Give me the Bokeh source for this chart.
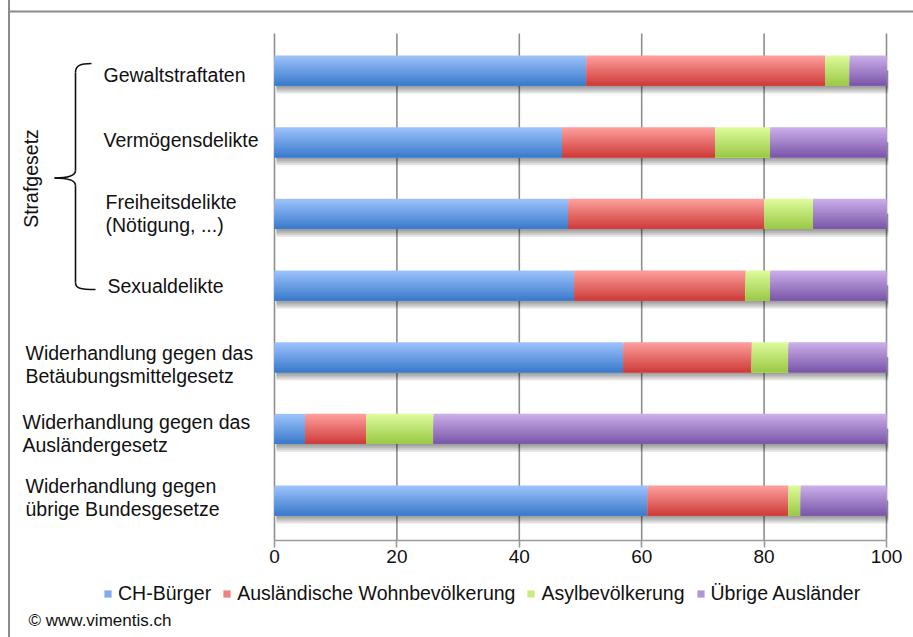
import math
import numpy as np
from bokeh.plotting import figure
from bokeh.layouts import column
from bokeh.models import (ColumnDataSource, Range1d, LinearAxis, FixedTicker, Label,
                          Legend, LegendItem, BoxAnnotation)
from bokeh.embed import file_html
from bokeh.resources import INLINE

# ---------------- data ----------------
categories = [
    "Gewaltstraftaten",
    "Vermögensdelikte",
    "Freiheitsdelikte\n(Nötigung, ...)",
    "Sexualdelikte",
    "Widerhandlung gegen das\nBetäubungsmittelgesetz",
    "Widerhandlung gegen das\nAusländergesetz",
    "Widerhandlung gegen\nübrige Bundesgesetze",
]
series_names = ["CH-Bürger", "Ausländische Wohnbevölkerung", "Asylbevölkerung", "Übrige Ausländer"]
ch_buerger = [51, 47, 48, 49, 57, 5, 61]
auslaendische_wohnbev = [39, 25, 32, 28, 21, 10, 23]
asylbev = [4, 9, 8, 4, 6, 11, 2]
uebrige_auslaender = [6, 19, 12, 19, 16, 74, 14]
x_ticks = [0, 20, 40, 60, 80, 100]
group_label = "Strafgesetz"
source_note = "© www.vimentis.ch"

# ---------------- layout helpers (canvas pixels -> data) ----------------
W, H = 913, 637
H_MAIN = 575
X0_PX, PX_PER_UNIT = 274.0, 6.12
ROW0_PY, ROW_STEP = 70.0, 71.67
FRAME_BOTTOM_PY = 540


def px_to_x(px):
    return (px - X0_PX) / PX_PER_UNIT


def py_to_y(py):
    return (py - ROW0_PY) / ROW_STEP


FONT = "Liberation Sans"
TXT = "#111111"
LEFT_LINE_CSS = {"background": "linear-gradient(to right, rgba(0,0,0,0) 8px, #8a8a8a 8px, "
                               "#8a8a8a 10px, rgba(0,0,0,0) 10px)"}


def style_plain(fig):
    fig.outline_line_color = None
    fig.xgrid.grid_line_color = None
    fig.ygrid.grid_line_color = None
    fig.background_fill_alpha = 0
    fig.border_fill_alpha = 0
    fig.styles = LEFT_LINE_CSS


p = figure(width=W, height=H_MAIN, output_backend="svg", toolbar_location=None,
           x_range=Range1d(px_to_x(0), px_to_x(W)),
           y_range=Range1d(py_to_y(FRAME_BOTTOM_PY), py_to_y(0)),
           x_axis_location=None, y_axis_location=None,
           min_border_left=0, min_border_right=0, min_border_top=0,
           min_border_bottom=H_MAIN - FRAME_BOTTOM_PY)
style_plain(p)

rows = np.arange(len(categories))

# ---------------- gridlines (from the tick list) ----------------
p.segment(x0=x_ticks, x1=x_ticks, y0=[py_to_y(33)] * len(x_ticks),
          y1=[py_to_y(FRAME_BOTTOM_PY)] * len(x_ticks),
          line_color="#8e8e8e", line_width=1.6)

# ---------------- bars ----------------
bar_h = 30.0 / ROW_STEP
series_vals = [ch_buerger, auslaendische_wohnbev, asylbev, uebrige_auslaender]
colors = [
    ((155, 193, 250), (60, 124, 205)),
    ((252, 157, 154), (207, 62, 60)),
    ((220, 250, 154), (156, 202, 72)),
    ((201, 173, 233), (124, 88, 170)),
]
totals = np.sum(np.array(series_vals, dtype=float), axis=0)


def mix(top, bot, t):
    c = tuple(int(round(top[j] + (bot[j] - top[j]) * t)) for j in range(3))
    return "#%02x%02x%02x" % c


# soft shadow under the bars (overlapping translucent layers)
px1 = 1.0 / ROW_STEP
for d in [8, 6, 4, 2]:
    top_edge = rows
    bot_edge = rows + bar_h / 2 + d * px1
    p.hbar(y=(top_edge + bot_edge) / 2, left=np.zeros(len(rows)) + 0.3,
           right=totals + 0.3, height=bot_edge - top_edge, fill_color="black",
           fill_alpha=0.11, line_color=None)

N = 14
cum = np.zeros(len(rows))
for name, vals, (top, bot) in zip(series_names, series_vals, colors):
    vals = np.array(vals, dtype=float)
    left = cum.copy()
    right = cum + vals
    for k in range(N):
        # strip k covers from its own top edge down to the bar bottom
        s_top = rows - bar_h / 2 + k * bar_h / N
        s_bot = rows + bar_h / 2
        src = ColumnDataSource(dict(y=(s_top + s_bot) / 2, h=s_bot - s_top,
                                    left=left, right=right))
        p.hbar(y="y", left="left", right="right", height="h", source=src,
               fill_color=mix(top, bot, k / (N - 1)), line_color=None)
    cum = right

# ---------------- x axis ----------------
xaxis = LinearAxis(ticker=FixedTicker(ticks=x_ticks), bounds=(min(x_ticks), max(x_ticks)),
                   axis_line_color="#9a9a9a", axis_line_width=1.6,
                   major_tick_line_color="#9a9a9a", major_tick_line_width=1.6,
                   major_tick_in=0, major_tick_out=7,
                   minor_tick_line_color=None,
                   major_label_text_font=FONT, major_label_text_font_size="19px",
                   major_label_text_color=TXT, major_label_standoff=2)
p.add_layout(xaxis, "below")

# ---------------- category labels ----------------
label_px = [103, 103, 105, 107, 25, 22, 25]
label_py = [74, 139.5, 213, 285.5, 364, 433, 497]
for txt, lx, ly in zip(categories, label_px, label_py):
    p.add_layout(Label(x=px_to_x(lx), y=py_to_y(ly), text=txt, text_align="left",
                       text_baseline="middle", text_font=FONT, text_font_size="19.5px",
                       text_color=TXT, text_line_height=1.05))

p.add_layout(Label(x=px_to_x(30), y=py_to_y(178), text=group_label, angle=math.pi / 2,
                   text_align="center", text_baseline="middle", text_font=FONT,
                   text_font_size="19.5px", text_color=TXT))

# ---------------- curly brace ----------------
bx = 75
p.bezier(x0=[px_to_x(91), px_to_x(bx), px_to_x(54), px_to_x(bx)],
         y0=[py_to_y(63), py_to_y(170), py_to_y(177.5), py_to_y(282)],
         x1=[px_to_x(bx), px_to_x(54), px_to_x(bx), px_to_x(95)],
         y1=[py_to_y(72), py_to_y(177.5), py_to_y(185), py_to_y(289)],
         cx0=[px_to_x(80), px_to_x(bx), px_to_x(66), px_to_x(bx)],
         cy0=[py_to_y(63), py_to_y(176), py_to_y(177.5), py_to_y(288)],
         cx1=[px_to_x(bx), px_to_x(66), px_to_x(bx), px_to_x(80)],
         cy1=[py_to_y(65), py_to_y(177.5), py_to_y(179), py_to_y(289)],
         line_color=TXT, line_width=1.6)
p.segment(x0=[px_to_x(bx), px_to_x(bx)], y0=[py_to_y(72), py_to_y(185)],
          x1=[px_to_x(bx), px_to_x(bx)], y1=[py_to_y(170), py_to_y(282)],
          line_color=TXT, line_width=1.6)

# ---------------- top frame line ----------------
p.add_layout(BoxAnnotation(left=px_to_x(8), right=px_to_x(W), top=py_to_y(10),
                           bottom=py_to_y(12), fill_color="#8a8a8a", fill_alpha=1,
                           line_color=None))

# ---------------- bottom strip: legend + source note ----------------
q = figure(width=W, height=H - H_MAIN, output_backend="svg", toolbar_location=None,
           x_range=Range1d(px_to_x(0), px_to_x(W)),
           y_range=Range1d(H, H_MAIN),
           x_axis_location=None, y_axis_location=None,
           min_border_left=0, min_border_right=0, min_border_top=0, min_border_bottom=0)
style_plain(q)

legend_items = []
for name, (top, bot) in zip(series_names, colors):
    # legend proxy: one zero-width bar placed off the visible strip
    r = q.hbar(y=[H_MAIN - 100], left=[0], right=[0], height=1,
               fill_color=mix(top, bot, 0.3), line_color=None)
    legend_items.append(LegendItem(label=name, renderers=[r]))

legend = Legend(items=legend_items, orientation="horizontal",
                location=(103, H - 605), padding=0, margin=0, spacing=11,
                glyph_width=9, glyph_height=9, label_standoff=6,
                label_text_font=FONT, label_text_font_size="19.5px",
                label_text_color=TXT, border_line_color=None,
                background_fill_alpha=0)
q.add_layout(legend, "center")

q.add_layout(Label(x=px_to_x(28), y=620, text=source_note, text_align="left",
                   text_baseline="middle", text_font=FONT, text_font_size="17px",
                   text_color=TXT))

page = column(p, q, spacing=0)
open("out.html", "w").write(file_html(page, INLINE))
